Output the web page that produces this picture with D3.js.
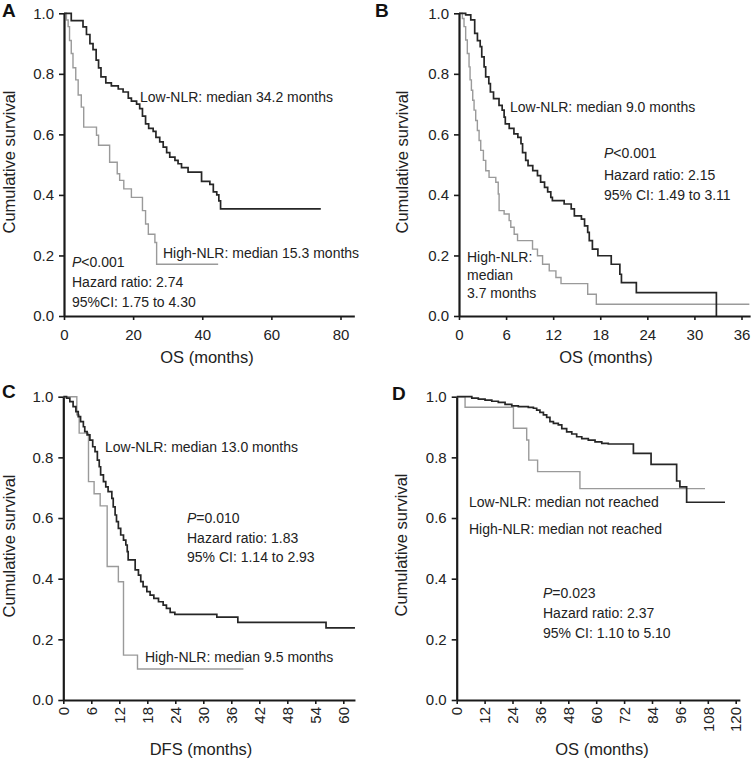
<!DOCTYPE html>
<html><head><meta charset="utf-8">
<script src="https://cdn.jsdelivr.net/npm/d3@7"></script>
<style>body{margin:0;background:#fff}svg{display:block}</style>
</head><body>
<svg id="chart" width="752" height="759"></svg>
<script>
// ---------- DATA ----------
const panelLetters = ["A", "B", "C", "D"];
const xTitles = ["OS (months)", "OS (months)", "DFS (months)", "OS (months)"];
const yTitle = "Cumulative survival";
const yTicks = [0, 0.2, 0.4, 0.6, 0.8, 1.0];
const xTicksA = [0, 20, 40, 60, 80];
const xTicksB = [0, 6, 12, 18, 24, 30, 36];
const xTicksC = [0, 6, 12, 18, 24, 30, 36, 42, 48, 54, 60];
const xTicksD = [0, 12, 24, 36, 48, 60, 72, 84, 96, 108, 120];

// Kaplan-Meier steps: [month, cumulative survival]
const aLow = [[0,1],[2.1,0.976],[5.5,0.955],[6.5,0.93],[7.5,0.90],[8.4,0.88],[9.3,0.845],[10.0,0.82],[10.7,0.79],[12.1,0.77],[13.7,0.76],[15.7,0.75],[17.1,0.74],[18.6,0.72],[19.5,0.71],[21.0,0.70],[21.9,0.685],[22.7,0.66],[23.6,0.635],[24.5,0.62],[25.8,0.61],[26.6,0.59],[27.7,0.575],[28.7,0.558],[29.7,0.54],[30.6,0.525],[32.1,0.514],[33.0,0.503],[34.0,0.49],[35.9,0.475],[39.8,0.445],[42.2,0.435],[43.2,0.41],[44.2,0.40],[44.8,0.38],[45.3,0.354],[74.3,0.354]];
const aHigh = [[0,1],[0.7,0.978],[1.2,0.956],[1.6,0.91],[2.1,0.867],[2.6,0.82],[3.4,0.78],[4.1,0.73],[5.0,0.69],[5.7,0.624],[9.4,0.597],[10.0,0.564],[13.2,0.508],[15.4,0.47],[16.1,0.448],[17.3,0.42],[19.5,0.392],[22.7,0.348],[23.6,0.304],[24.4,0.27],[26.3,0.243],[26.8,0.171],[44.6,0.171]];
const bLow = [[0,1],[0.85,0.995],[1.5,0.978],[2.0,0.934],[2.35,0.91],[2.7,0.89],[2.9,0.856],[3.2,0.823],[3.4,0.79],[3.8,0.768],[4.0,0.74],[4.4,0.718],[5.1,0.696],[5.5,0.68],[5.75,0.657],[5.9,0.635],[6.4,0.62],[7.0,0.602],[7.5,0.59],[7.9,0.569],[8.1,0.54],[8.5,0.514],[8.8,0.497],[9.4,0.48],[10.0,0.464],[10.4,0.442],[10.9,0.425],[11.3,0.41],[11.7,0.392],[11.9,0.381],[13.4,0.37],[14.3,0.354],[14.7,0.331],[15.6,0.32],[16.0,0.298],[16.4,0.276],[16.6,0.249],[17.0,0.221],[17.7,0.199],[19.4,0.171],[20.5,0.138],[20.7,0.11],[22.6,0.077],[32.8,0.0]];
const bHigh = [[0,1],[0.43,0.983],[0.64,0.956],[0.85,0.912],[1.06,0.867],[1.28,0.823],[1.41,0.78],[1.58,0.746],[1.75,0.713],[1.92,0.68],[2.13,0.646],[2.34,0.613],[2.56,0.58],[2.77,0.547],[3.11,0.514],[3.41,0.48],[3.83,0.458],[4.69,0.442],[5.0,0.403],[5.11,0.348],[5.75,0.337],[6.39,0.315],[6.6,0.293],[7.03,0.27],[7.46,0.249],[9.37,0.221],[10.0,0.199],[10.65,0.171],[11.5,0.149],[12.35,0.127],[13.0,0.107],[16.4,0.072],[17.5,0.039],[37.0,0.039]];
const cLow = [[0,1],[0.7,0.995],[1.4,0.984],[2.1,0.967],[2.7,0.951],[3.2,0.934],[3.7,0.918],[4.3,0.901],[4.6,0.885],[5.1,0.874],[5.7,0.857],[6.3,0.835],[6.8,0.819],[7.3,0.791],[7.7,0.769],[8.0,0.742],[8.6,0.72],[9.1,0.703],[9.6,0.687],[10.4,0.665],[10.7,0.637],[11.1,0.61],[11.4,0.588],[11.8,0.566],[12.3,0.544],[12.9,0.527],[13.4,0.511],[13.7,0.489],[13.9,0.462],[15.4,0.429],[16.1,0.412],[16.6,0.39],[17.1,0.374],[17.9,0.357],[18.6,0.346],[19.4,0.335],[20.4,0.324],[21.4,0.313],[22.1,0.302],[22.9,0.289],[23.9,0.282],[32.9,0.273],[37.4,0.256],[56.3,0.238],[62.5,0.238]];
const cHigh = [[0,1],[2.9,0.94],[3.4,0.88],[5.4,0.72],[6.6,0.68],[7.9,0.64],[9.4,0.44],[11.8,0.39],[12.9,0.148],[15.9,0.102],[38.6,0.102]];
const dLow = [[0,1],[6.5,0.995],[9.3,0.992],[12.2,0.989],[15.1,0.985],[17.9,0.981],[20.8,0.975],[23.7,0.970],[26.5,0.967],[30.8,0.965],[33.0,0.962],[34.4,0.956],[35.8,0.948],[37.3,0.94],[38.7,0.932],[40.1,0.918],[41.6,0.912],[43.7,0.907],[45.2,0.895],[47.3,0.884],[49.5,0.877],[51.6,0.868],[53.8,0.862],[56.6,0.857],[59.5,0.851],[62.4,0.846],[65.2,0.844],[76.0,0.813],[83.6,0.777],[94.6,0.722],[96.0,0.703],[98.9,0.652],[115.4,0.652]];
const dHigh = [[0,1],[3.6,0.965],[24.4,0.896],[30.1,0.857],[31.0,0.791],[34.8,0.753],[53.0,0.697],[106.8,0.697]];

// Annotation texts
const aNotes = ["Low-NLR: median 34.2 months", "High-NLR: median 15.3 months", "P<0.001", "Hazard ratio: 2.74", "95%CI: 1.75 to 4.30"];
const bNotes = ["Low-NLR: median 9.0 months", "P<0.001", "Hazard ratio: 2.15", "95% CI: 1.49 to 3.11", "High-NLR:", "median", "3.7 months"];
const cNotes = ["Low-NLR: median 13.0 months", "P=0.010", "Hazard ratio: 1.83", "95% CI: 1.14 to 2.93", "High-NLR: median 9.5 months"];
const dNotes = ["Low-NLR: median not reached", "High-NLR: median not reached", "P=0.023", "Hazard ratio: 2.37", "95% CI: 1.10 to 5.10"];

// ---------- LAYOUT ----------
const FONT = "'Liberation Sans', Arial, Helvetica, sans-serif";
const layout = [
  {letter:[2,17], x0:64, x1:340.5, tMax:80, xEnd:84, yTop:13.3, yBot:316, xt:[207,363], yt:[15,162], rotate:false,
   ticks:xTicksA, low:aLow, high:aHigh, notes:aNotes,
   pos:[[140,102],[163,258],[72,267],[72,287],[72,307]]},
  {letter:[375,17], x0:459, x1:741.5, tMax:36, xEnd:37.1, yTop:13.3, yBot:316, xt:[606,363], yt:[408,162], rotate:false,
   ticks:xTicksB, low:bLow, high:bHigh, notes:bNotes,
   pos:[[510,111.5],[604,158],[604,180],[604,200],[467,261.5],[467,280],[467,298]]},
  {letter:[2,398], x0:63.3, x1:343.3, tMax:60, xEnd:62.5, yTop:396.7, yBot:700, xt:[201,755], yt:[15,546], rotate:true,
   ticks:xTicksC, low:cLow, high:cHigh, notes:cNotes,
   pos:[[105,451.5],[187,523],[187,543],[187,562],[145,662]]},
  {letter:[392,400], x0:456.7, x1:735.7, tMax:120, xEnd:121.8, yTop:396.7, yBot:700, xt:[602,755], yt:[407,545], rotate:true,
   ticks:xTicksD, low:dLow, high:dHigh, notes:dNotes,
   pos:[[469,506.5],[469,534],[543,597.5],[543,617.5],[543,637.5]]}
];

const svg = d3.select("#chart");
svg.append("rect").attr("width",752).attr("height",759).attr("fill","#fff");

layout.forEach((L, i) => {
  const g = svg.append("g");
  const pxPer = (L.x1 - L.x0) / L.tMax;
  const x = d3.scaleLinear().domain([0, L.xEnd]).range([L.x0, L.x0 + L.xEnd * pxPer]);
  const y = d3.scaleLinear().domain([0, 1]).range([L.yBot, L.yTop]);

  // curves
  const line = d3.line().x(d => x(d[0])).y(d => y(d[1])).curve(d3.curveStepAfter);
  g.append("path").datum(L.high).attr("d", line).attr("fill","none")
    .attr("stroke","#9a9a9a").attr("stroke-width",1.4);
  g.append("path").datum(L.low).attr("d", line).attr("fill","none")
    .attr("stroke","#262626").attr("stroke-width",1.7);

  // axes
  const ya = g.append("g").attr("transform", `translate(${L.x0},0)`)
    .call(d3.axisLeft(y).tickValues(yTicks).tickFormat(d3.format(".1f"))
      .tickSize(5).tickSizeOuter(0).tickPadding(5));
  const xa = g.append("g").attr("transform", `translate(0,${L.yBot})`)
    .call(d3.axisBottom(x).tickValues(L.ticks).tickFormat(d3.format("d"))
      .tickSize(4).tickSizeOuter(0).tickPadding(9));
  [ya, xa].forEach(a => {
    a.select(".domain").attr("stroke","#1a1a1a").attr("stroke-width",2.2);
    a.selectAll(".tick line").attr("stroke","#1a1a1a").attr("stroke-width",1.6);
    a.selectAll(".tick text").attr("font-family",FONT).attr("font-size",15).attr("fill","#222");
  });
  if (L.rotate) {
    xa.selectAll(".tick text")
      .attr("transform","rotate(-90)").attr("text-anchor","end")
      .attr("x",-7).attr("y",0).attr("dy","0.35em");
  }

  // titles
  g.append("text").attr("x", L.xt[0]).attr("y", L.xt[1]).attr("text-anchor","middle")
    .attr("font-family",FONT).attr("font-size",16.5).attr("fill","#222").text(xTitles[i]);
  g.append("text").attr("transform", `translate(${L.yt[0]},${L.yt[1]}) rotate(-90)`)
    .attr("text-anchor","middle").attr("font-family",FONT).attr("font-size",16.5)
    .attr("fill","#222").text(yTitle);
  g.append("text").attr("x", L.letter[0]).attr("y", L.letter[1])
    .attr("font-family",FONT).attr("font-weight","bold").attr("font-size",19)
    .attr("fill","#111").text(panelLetters[i]);

  // annotations
  L.notes.forEach((t, k) => {
    const tx = g.append("text").attr("x", L.pos[k][0]).attr("y", L.pos[k][1])
      .attr("font-family",FONT).attr("font-size",14).attr("fill","#222");
    if (t.startsWith("P") && (t[1] === "<" || t[1] === "=")) {
      tx.append("tspan").attr("font-style","italic").text("P");
      tx.append("tspan").text(t.slice(1));
    } else {
      tx.text(t);
    }
  });
});
</script></body></html>
